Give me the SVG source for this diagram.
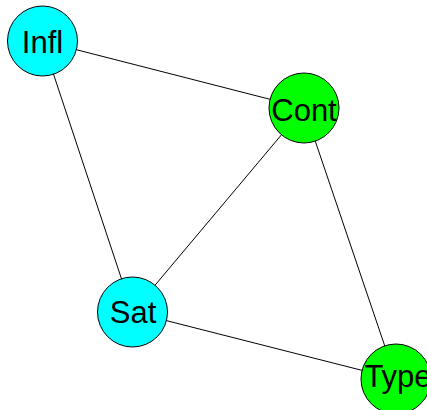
<svg xmlns="http://www.w3.org/2000/svg" width="427" height="410" viewBox="0 0 427 410">
<style>
.edge{stroke:#000;stroke-width:1;fill:none}
.node{stroke:#000;stroke-width:1}
.cyan{fill:#00ffff}
.green{fill:#00ff00}
text{font-family:"Liberation Sans",Arial,sans-serif;font-size:31px;text-anchor:middle;fill:#000}
</style>
<rect width="427" height="410" fill="#fff"/>
<g id="connectors">
<line class="edge" x1="42.5" y1="41" x2="304" y2="108"/>
<line class="edge" x1="42.5" y1="41" x2="132.5" y2="312"/>
<line class="edge" x1="304" y1="108" x2="132.5" y2="312"/>
<line class="edge" x1="304" y1="108" x2="396" y2="379"/>
<line class="edge" x1="132.5" y1="312" x2="396" y2="379"/>
</g>
<g id="Infl"><circle class="node cyan" cx="42.5" cy="41" r="35"/><text x="42.5" y="53">Infl</text></g>
<g id="Cont"><circle class="node green" cx="304" cy="108" r="35"/><text x="304" y="121">Cont</text></g>
<g id="Sat"><circle class="node cyan" cx="132.5" cy="312" r="35"/><text x="133" y="323">Sat</text></g>
<g id="Type"><circle class="node green" cx="396" cy="379" r="35"/><text x="398" y="387">Type</text></g>
</svg>
